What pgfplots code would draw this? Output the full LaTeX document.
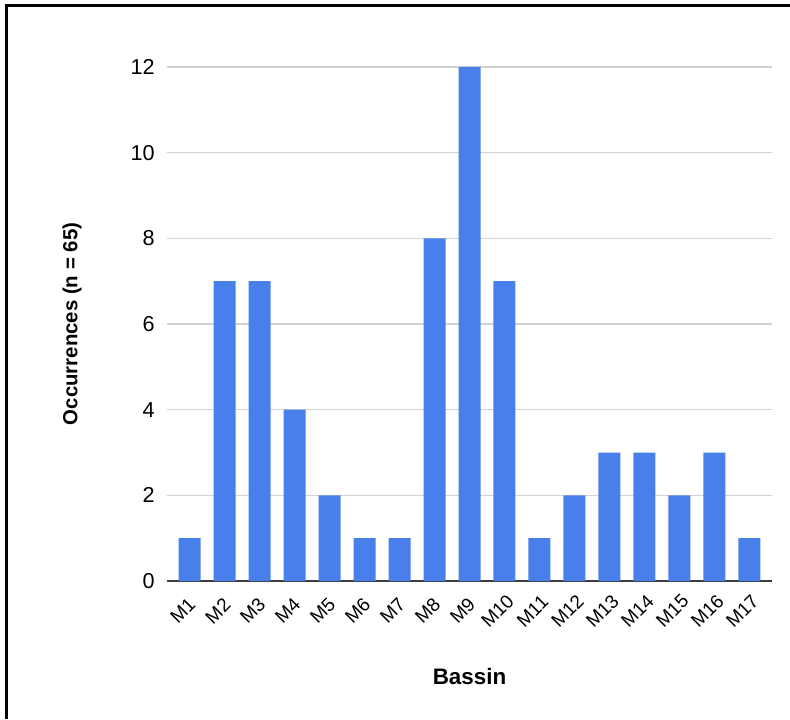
\documentclass[border=0pt]{standalone}
\usepackage{pgfplots}
\pgfplotsset{compat=1.18}
\usepackage{fontspec}
\setmainfont{Liberation Sans}
\definecolor{barblue}{RGB}{73,127,234}
\definecolor{gridgray}{RGB}{210,210,210}
\definecolor{axisdark}{RGB}{60,60,60}
\begin{document}
\begin{tikzpicture}
\useasboundingbox (0,0) rectangle (395pt,359.5pt);
\fill[white] (0,0) rectangle (395pt,359.5pt);
\draw[line width=1.3pt, black] (3.1pt,0) -- (3.1pt,356.75pt) -- (395pt,356.75pt);
\begin{axis}[
  at={(83.5pt,69pt)}, anchor=south west,
  scale only axis, width=302.5pt, height=257pt,
  xmin=-0.65, xmax=16.65, ymin=0, ymax=12,
  axis x line*=bottom, axis y line*=left,
  x axis line style={axisdark, line width=0.8pt, -},
  y axis line style={draw=none, -},
  ytick={0,2,...,12},
  xtick={0,...,16},
  xticklabels={M1,M2,M3,M4,M5,M6,M7,M8,M9,M10,M11,M12,M13,M14,M15,M16,M17},
  major tick length=0pt,
  ymajorgrids, grid style={gridgray, line width=0.6pt},
  /pgf/number format/assume math mode=true,
  yticklabel style={font=\fontsize{10.8}{12}\selectfont, anchor=east, inner sep=0pt, xshift=-6pt},
  xticklabel style={font=\fontsize{9.5}{11}\selectfont, xshift=-3.5pt, yshift=-15pt, rotate=45, anchor=center, inner sep=0pt},
  ylabel={Occurrences (n = 65)},
  xlabel={Bassin},
  ylabel style={font=\fontsize{10.2}{12}\selectfont\bfseries, at={(axis description cs:-0.157,0.5)}, anchor=center, rotate=0},
  xlabel style={font=\fontsize{11.2}{13}\selectfont\bfseries, at={(axis description cs:0.5,-0.1848)}, anchor=center},
  clip=false,
]
\addplot[ybar, bar width=11pt, fill=barblue, draw=none] coordinates {
(0,1) (1,7) (2,7) (3,4) (4,2) (5,1) (6,1) (7,8) (8,12) (9,7) (10,1) (11,2) (12,3) (13,3) (14,2) (15,3) (16,1)
};
\end{axis}
\end{tikzpicture}
\end{document}
